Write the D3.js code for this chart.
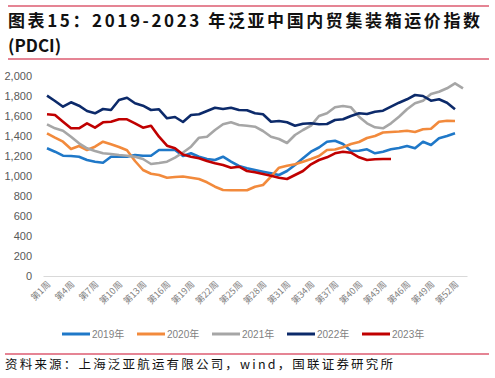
<!DOCTYPE html>
<html><head><meta charset="utf-8">
<script src="https://cdn.jsdelivr.net/npm/d3@7"></script>
<style>html,body{margin:0;padding:0;background:#fff;}svg{display:block;}</style>
</head><body>
<svg id="chart" width="495" height="378"></svg>
<script>
const weeks = d3.range(1, 54);
const tickWeeks = [1,4,7,10,13,16,19,22,25,28,31,34,37,40,43,46,49,52];
const yTicks = [0,200,400,600,800,1000,1200,1400,1600,1800,2000];
const seriesNames = ["2019年","2020年","2021年","2022年","2023年"];
const s2019 = [1277,1243,1203,1200,1193,1160,1143,1133,1193,1193,1193,1210,1203,1203,1260,1260,1260,1200,1227,1193,1170,1160,1193,1143,1100,1077,1060,1043,1027,1010,1050,1110,1177,1243,1285,1343,1353,1320,1250,1253,1267,1227,1243,1267,1280,1300,1277,1343,1310,1377,1400,1427];
const s2020 = [1427,1383,1343,1270,1300,1260,1293,1343,1317,1290,1257,1150,1060,1023,1010,983,990,995,983,970,937,893,860,857,857,857,893,910,993,1083,1103,1117,1143,1170,1200,1260,1265,1287,1320,1340,1380,1400,1435,1440,1445,1453,1440,1467,1473,1543,1553,1550];
const s2021 = [1517,1477,1453,1393,1327,1277,1250,1227,1220,1210,1203,1193,1170,1120,1130,1143,1183,1235,1293,1383,1393,1460,1517,1537,1510,1503,1493,1450,1393,1370,1330,1410,1460,1503,1600,1627,1687,1700,1687,1593,1527,1487,1477,1527,1593,1667,1727,1753,1820,1843,1877,1927,1877];
const s2022 = [1803,1750,1693,1737,1703,1650,1627,1670,1660,1760,1783,1727,1703,1660,1667,1577,1590,1540,1610,1617,1650,1683,1670,1683,1660,1657,1627,1617,1543,1550,1537,1503,1523,1527,1517,1520,1560,1567,1600,1627,1620,1643,1653,1693,1733,1767,1810,1800,1753,1767,1733,1667];
const s2023 = [1617,1610,1543,1477,1477,1527,1483,1537,1543,1567,1567,1527,1483,1503,1393,1303,1277,1215,1193,1177,1150,1127,1110,1083,1093,1050,1037,1020,1003,983,970,1010,1050,1117,1160,1187,1227,1243,1233,1187,1160,1167,1170,1170];
const seriesData = [s2019, s2020, s2021, s2022, s2023];
const colors = ["#1f78c8","#f28a3c","#a6a6a6","#0c2a6a","#c00000"];

const svg = d3.select("#chart");
const fontCJK = "'Noto Sans CJK SC', sans-serif";
const fontNum = "'Liberation Sans', 'Noto Sans CJK SC', sans-serif";
const pink = "#dc5b70";

// title
svg.append("line").attr("x1",8).attr("x2",489).attr("y1",6).attr("y2",6).attr("stroke",pink).attr("stroke-width",1.5);
svg.append("text").attr("x",8).attr("y",27).attr("font-family",fontCJK).attr("font-weight","bold")
  .attr("font-size",17).attr("fill","#111").attr("textLength",472).attr("lengthAdjust","spacing")
  .text("图表15：2019-2023 年泛亚中国内贸集装箱运价指数");
svg.append("text").attr("x",8).attr("y",52).attr("font-family",fontCJK).attr("font-weight","bold")
  .attr("font-size",17).attr("fill","#111").text("(PDCI)");
svg.append("line").attr("x1",8).attr("x2",489).attr("y1",59).attr("y2",59).attr("stroke",pink).attr("stroke-width",1.5);

// scales
const x = d3.scaleBand().domain(weeks).range([43, 467]);
const cx = w => x(w) + x.bandwidth()/2;
const y = d3.scaleLinear().domain([0, 2000]).range([276, 76]);

// y axis
const yAxis = svg.append("g").attr("transform","translate(35,0)")
  .call(d3.axisLeft(y).tickValues(yTicks).tickFormat(d3.format(",")).tickSize(0).tickPadding(3));
yAxis.select(".domain").remove();
yAxis.selectAll("text").attr("font-family",fontNum).attr("font-size",11).attr("fill","#595959");

// x axis
const xAxis = svg.append("g").attr("transform","translate(0,276)")
  .call(d3.axisBottom(x).tickValues(tickWeeks).tickFormat(d => "第" + d + "周").tickSize(0).tickPadding(0));
xAxis.select(".domain").attr("stroke","#d9d9d9").attr("stroke-width",1.2);
xAxis.selectAll("text").attr("font-family",fontCJK).attr("font-size",9).attr("fill","#7f7f7f")
  .attr("text-anchor","end").attr("dy",0)
  .attr("transform","translate(4,9) rotate(-45)");

// lines
const line = d3.line().x((d,i) => cx(weeks[i])).y(d => y(d));
seriesData.forEach((s, i) => {
  svg.append("path").datum(s).attr("d", line).attr("fill","none")
    .attr("stroke", colors[i]).attr("stroke-width", 2.6).attr("stroke-linejoin","round");
});

// legend
const legendX = [62, 137, 212, 287, 362];
seriesNames.forEach((n, i) => {
  const g = svg.append("g").attr("transform", `translate(${legendX[i]},334)`);
  g.append("line").attr("x1",0).attr("x2",28).attr("y1",0).attr("y2",0).attr("stroke",colors[i]).attr("stroke-width",3);
  g.append("text").attr("x",30).attr("y",4).attr("font-family",fontNum).attr("font-size",10).attr("fill","#7f7f7f").text(n);
});

// source
svg.append("line").attr("x1",5).attr("x2",489).attr("y1",354).attr("y2",354).attr("stroke",pink).attr("stroke-width",1.5);
svg.append("text").attr("x",5).attr("y",369).attr("font-family",fontCJK).attr("font-size",12.5).attr("fill","#111")
  .attr("textLength",388).attr("lengthAdjust","spacing")
  .text("资料来源：上海泛亚航运有限公司，wind，国联证券研究所");
</script>
</body></html>
